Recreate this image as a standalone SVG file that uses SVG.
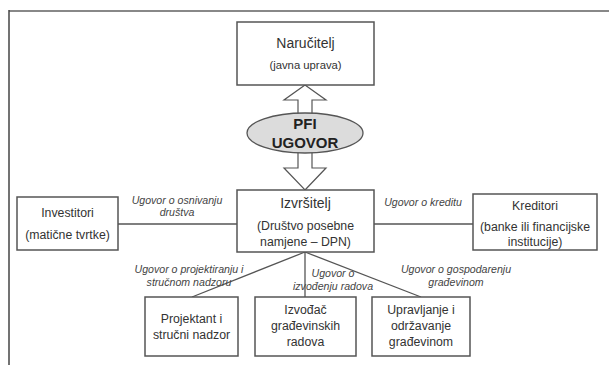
<svg xmlns="http://www.w3.org/2000/svg" width="609" height="365" viewBox="0 0 609 365">
<style>
.box{fill:#fff;stroke:#555;stroke-width:1.5}
.t{font-family:"Liberation Sans",Arial,sans-serif;fill:#333;text-anchor:middle;font-size:12.3px}
.big{font-size:14px}
.lbl{font-family:"Liberation Sans",Arial,sans-serif;fill:#444;text-anchor:middle;font-size:10.6px;font-style:italic}
.con{stroke:#555;stroke-width:1.3;fill:none}
.bold{font-family:"Liberation Sans",Arial,sans-serif;fill:#222;text-anchor:middle;font-size:15px;font-weight:bold}
.arr{fill:#fff;stroke:#555;stroke-width:1.2}
</style>
<rect width="609" height="365" fill="#fff"/>
<g id="frame">
<line x1="9" y1="11" x2="609" y2="11" stroke="#888" stroke-width="2"/>
<line x1="9" y1="10" x2="9" y2="365" stroke="#444" stroke-width="1.5"/>
</g>
<g id="connectors">
<polygon class="arr" points="305,85 326,100 312,100 312,118 298,118 298,100 284,100"/>
<polygon class="arr" points="305,190 326,168 312,168 312,148 298,148 298,168 284,168"/>
<line class="con" x1="118" y1="224" x2="237" y2="224"/>
<line class="con" x1="374" y1="224" x2="473" y2="224"/>
<line class="con" x1="305" y1="252" x2="192" y2="297"/>
<line class="con" x1="305" y1="252" x2="305" y2="297"/>
<line class="con" x1="305" y1="252" x2="421" y2="297"/>
<text class="lbl" x="177" y="204">Ugovor o osnivanju</text>
<text class="lbl" x="177" y="216">društva</text>
<text class="lbl" x="423" y="206">Ugovor o kreditu</text>
<text class="lbl" x="189" y="273">Ugovor o projektiranju i</text>
<text class="lbl" x="189" y="286">stručnom nadzoru</text>
<text class="lbl" x="333" y="277">Ugovor o</text>
<text class="lbl" x="333" y="290">izvođenju radova</text>
<text class="lbl" x="456" y="273">Ugovor o gospodarenju</text>
<text class="lbl" x="456" y="286">građevinom</text>
</g>
<g id="narucitelj">
<rect class="box" x="237" y="22" width="137" height="63"/>
<text class="t big" x="305.5" y="48">Naručitelj</text>
<text class="t" x="305.5" y="69" style="font-size:11.3px">(javna uprava)</text>
</g>
<g id="pfi">
<ellipse cx="305" cy="133" rx="58" ry="20" fill="#dcdcdc" stroke="#555" stroke-width="1.3"/>
<text class="bold" x="305" y="129">PFI</text>
<text class="bold" x="305" y="148">UGOVOR</text>
</g>
<g id="izvrsitelj">
<rect class="box" x="237" y="190" width="137" height="62"/>
<text class="t big" x="305.5" y="208">Izvršitelj</text>
<text class="t" x="305.5" y="230">(Društvo posebne</text>
<text class="t" x="305.5" y="246">namjene – DPN)</text>
</g>
<g id="investitori">
<rect class="box" x="17" y="197" width="101" height="53"/>
<text class="t" x="67.5" y="217">Investitori</text>
<text class="t" x="67.5" y="239">(matične tvrtke)</text>
</g>
<g id="kreditori">
<rect class="box" x="473" y="194" width="124" height="56"/>
<text class="t" x="535" y="210">Kreditori</text>
<text class="t" x="535" y="231">(banke ili financijske</text>
<text class="t" x="535" y="246">institucije)</text>
</g>
<g id="projektant">
<rect class="box" x="145" y="297" width="93" height="59"/>
<text class="t" x="191.5" y="323">Projektant i</text>
<text class="t" x="191.5" y="339">stručni nadzor</text>
</g>
<g id="izvodac">
<rect class="box" x="255" y="297" width="101" height="59"/>
<text class="t" x="305.5" y="314">Izvođač</text>
<text class="t" x="305.5" y="330">građevinskih</text>
<text class="t" x="305.5" y="346">radova</text>
</g>
<g id="upravljanje">
<rect class="box" x="372" y="297" width="98" height="59"/>
<text class="t" x="421" y="314">Upravljanje i</text>
<text class="t" x="421" y="330">održavanje</text>
<text class="t" x="421" y="346">građevinom</text>
</g>
</svg>
